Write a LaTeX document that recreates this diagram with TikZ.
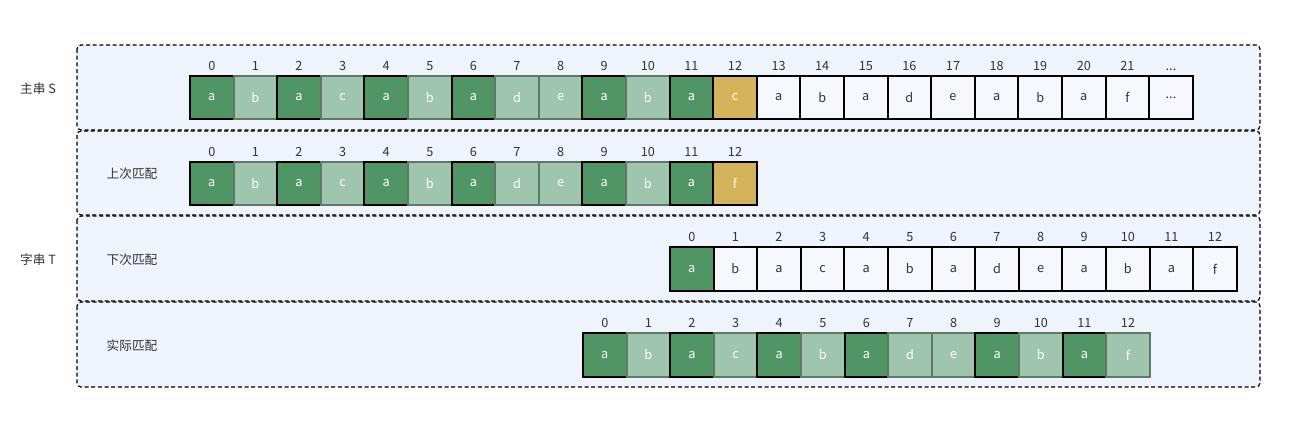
\documentclass[tikz,border=0pt]{standalone}
\usepackage{fontspec}
\setmainfont{Noto Sans CJK SC}
\usetikzlibrary{positioning}

\definecolor{panelbg}{HTML}{EEF3FC}
\definecolor{darkgreen}{HTML}{509664}
\definecolor{lightgreen}{HTML}{A0C5AE}
\definecolor{lightedge}{HTML}{5E7A66}
\definecolor{gold}{HTML}{D4B35A}
\definecolor{plainbg}{HTML}{F6F8FD}
\definecolor{inkgray}{HTML}{333333}

\newcommand{\moredots}{...}

\tikzset{
  panel/.style={draw=black, line width=0.9pt, dash pattern=on 3pt off 2pt, rounded corners=3pt, fill=panelbg},
  cell/.style={draw, line width=1.5pt, minimum size=32.7pt, inner sep=0pt},
  cdark/.style={cell, fill=darkgreen, draw=black, text=white},
  clight/.style={cell, fill=lightgreen, draw=lightedge, text=white},
  cgold/.style={cell, fill=gold, draw=black, text=white},
  cplain/.style={cell, fill=plainbg, draw=black, text=inkgray},
  idx/.style={inner sep=0pt, text=inkgray},
  rowlabel/.style={inner sep=0pt, text=inkgray}
}

\begin{document}
\begin{tikzpicture}[x=0.75pt, y=-0.75pt, font=\fontsize{9.5pt}{11pt}\selectfont]
	\useasboundingbox (0,0) rectangle (1290,425);

	% four dashed panels, one per row
	\draw[panel] (77,45) rectangle (1260,130);
	\draw[panel] (77,131) rectangle (1260,215);
	\draw[panel] (77,216) rectangle (1260,301);
	\draw[panel] (77,302) rectangle (1260,387);

	% row labels
	\node[rowlabel] (lblS) at (38,89) {主串 S};
	\node[rowlabel] (lblT) at (38,260) {字串 T};
	\node[rowlabel] (lblPrev) at (132,174) {上次匹配};
	\node[rowlabel] (lblNext) at (132,260) {下次匹配};
	\node[rowlabel] (lblReal) at (132,346) {实际匹配};

	% main string S
	\foreach \st/\ch/\num [count=\i from 0] in {cdark/a/0, clight/b/1, cdark/a/2, clight/c/3, cdark/a/4, clight/b/5, cdark/a/6, clight/d/7, clight/e/8, cdark/a/9, clight/b/10, cdark/a/11, cgold/c/12, cplain/a/13, cplain/b/14, cplain/a/15, cplain/d/16, cplain/e/17, cplain/a/18, cplain/b/19, cplain/a/20, cplain/f/21, cplain/\moredots/\moredots}{
		\node[\st] (s\i) at (211.8+43.6*\i,97.5) {\ch};
		\node[idx, above=3pt of s\i] (si\i) {\num};
	}

	% previous match
	\foreach \st/\ch [count=\i from 0] in {cdark/a, clight/b, cdark/a, clight/c, cdark/a, clight/b, cdark/a, clight/d, clight/e, cdark/a, clight/b, cdark/a, cgold/f}{
		\node[\st] (p\i) at (211.8+43.6*\i,183.5) {\ch};
		\node[idx, above=3pt of p\i] (pi\i) {\i};
	}

	% next match
	\foreach \st/\ch [count=\i from 0] in {cdark/a, cplain/b, cplain/a, cplain/c, cplain/a, cplain/b, cplain/a, cplain/d, cplain/e, cplain/a, cplain/b, cplain/a, cplain/f}{
		\node[\st] (n\i) at (691.8+43.6*\i,269) {\ch};
		\node[idx, above=3pt of n\i] (ni\i) {\i};
	}

	% actual match
	\foreach \st/\ch [count=\i from 0] in {cdark/a, clight/b, cdark/a, clight/c, cdark/a, clight/b, cdark/a, clight/d, clight/e, cdark/a, clight/b, cdark/a, clight/f}{
		\node[\st] (r\i) at (604.8+43.6*\i,355) {\ch};
		\node[idx, above=3pt of r\i] (ri\i) {\i};
	}
\end{tikzpicture}
\end{document}
